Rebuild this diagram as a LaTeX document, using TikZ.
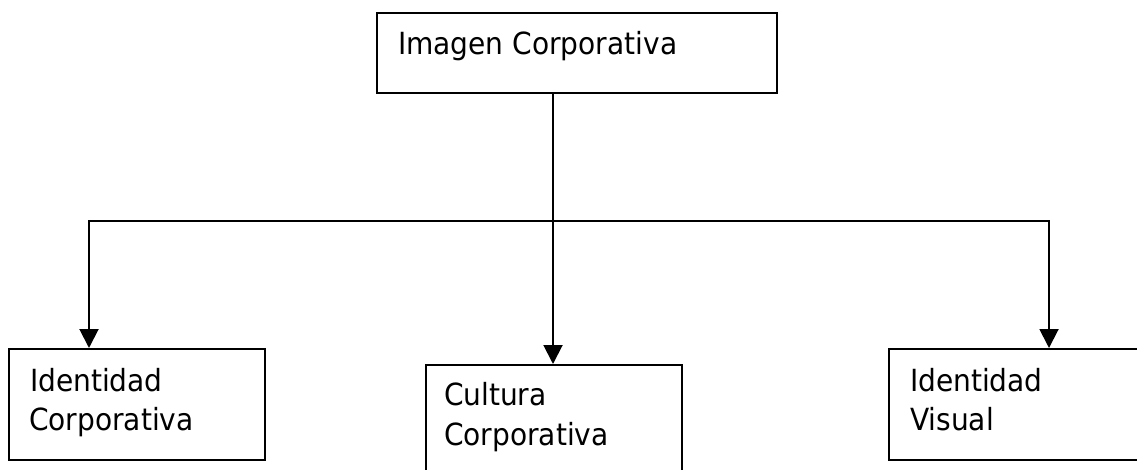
\documentclass[tikz,border=0pt]{standalone}
\usepackage{fontspec}
\setmainfont{DejaVu Sans}[FakeStretch=0.92]
\usetikzlibrary{arrows.meta}
\begin{document}
\begin{tikzpicture}[x=1pt,y=-1pt,line width=2pt,line join=miter,
  box/.style={draw,rectangle,inner sep=0pt,anchor=north west},
  txt/.style={anchor=base west,inner sep=0pt,font=\fontsize{30.5pt}{39pt}\selectfont},
  arr/.style={-{Triangle[length=19pt,width=19pt]}}]
\clip (0,0) rectangle (1137,470);
\fill[white] (0,0) rectangle (1137,470);
% boxes
\node[box,minimum width=400pt,minimum height=80pt] (top) at (376,12) {};
\node[box,minimum width=256pt,minimum height=111pt] (left) at (8,348) {};
\node[box,minimum width=256pt,minimum height=130pt] (mid) at (425,364) {};
\node[box,minimum width=270pt,minimum height=111pt] (right) at (888,348) {};
% labels
\node[txt] (ttop) at (397,55) {Imagen Corporativa};
\node[txt] (tl1) at (29,391) {Identidad};
\node[txt] (tl2) at (28,430) {Corporativa};
\node[txt] (tm1) at (443,405) {Cultura};
\node[txt] (tm2) at (443,445) {Corporativa};
\node[txt] (tr1) at (909,391) {Identidad};
\node[txt] (tr2) at (909,430) {Visual};
% connectors
\coordinate (split) at (553,221);
\coordinate (lj) at (89,221);
\coordinate (rj) at (1049,221);
\draw (top.south -| split) -- (split);
\draw[arr] (split) -- (split |- mid.north);
\draw[arr] (split) -- (lj) -- (lj |- left.north);
\draw[arr] (split) -- (rj) -- (rj |- right.north);
\end{tikzpicture}
\end{document}
